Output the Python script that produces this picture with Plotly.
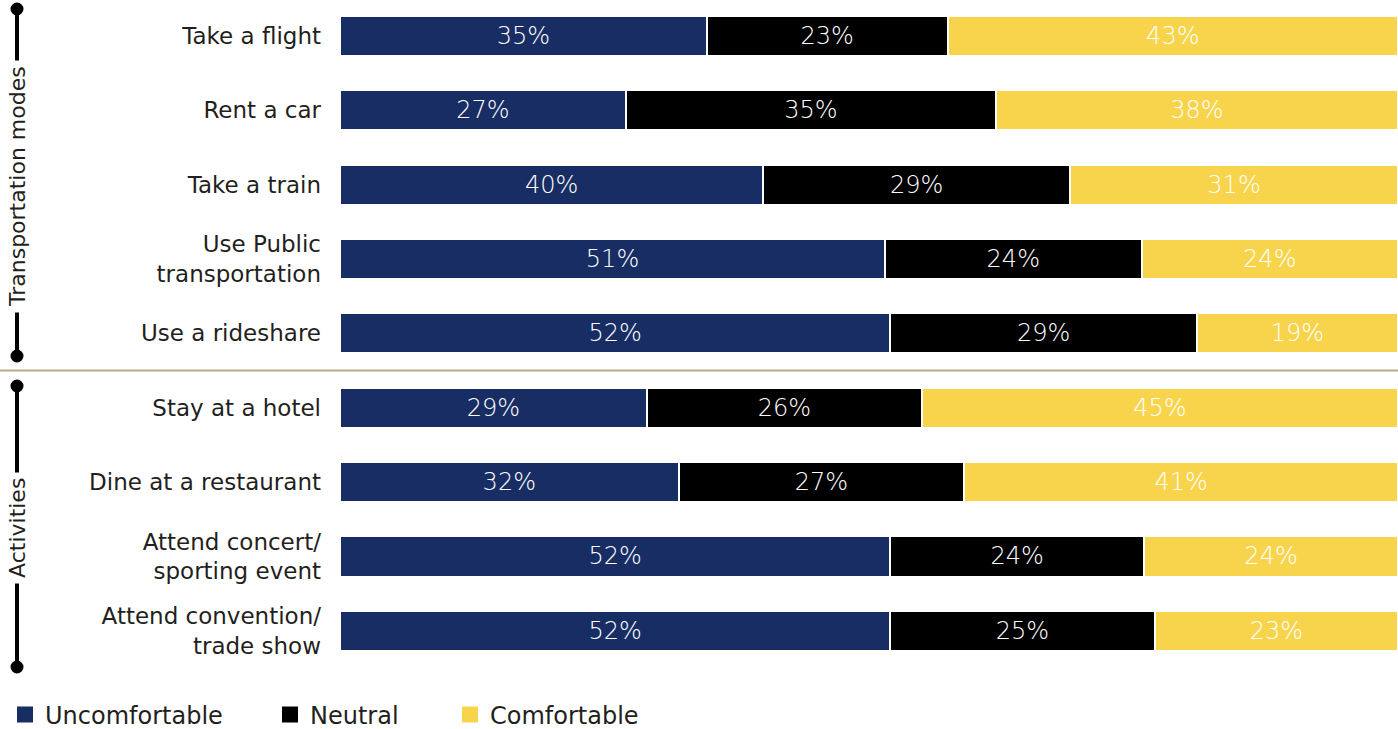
import plotly.graph_objects as go

categories = ["Take a flight", "Rent a car", "Take a train", "Use Public<br>transportation",
              "Use a rideshare", "Stay at a hotel", "Dine at a restaurant",
              "Attend concert/<br>sporting event", "Attend convention/<br>trade show"]
uncomfortable = [35, 27, 40, 51, 52, 29, 32, 52, 52]
neutral = [23, 35, 29, 24, 29, 26, 27, 24, 25]
comfortable = [43, 38, 31, 24, 19, 45, 41, 24, 23]
series_names = ["Uncomfortable", "Neutral", "Comfortable"]
colors = ["#172d63", "#000000", "#f7d44c"]
group_names = ["Transportation modes", "Activities"]

FONT = "DejaVu Sans"
TXT = "#231f20"
W, H = 1398, 729
ml, mt, mb = 340, 0, 61
pw, ph = W - ml, H - mt - mb

fig = go.Figure()
legend_ids = ["legend", "legend2", "legend3"]
for name, vals, col, lid in zip(series_names, [uncomfortable, neutral, comfortable], colors, legend_ids):
    fig.add_trace(go.Bar(
        y=categories, x=vals, name=name, orientation="h",
        marker=dict(color=col, line=dict(color="white", width=2)),
        text=vals, texttemplate="%{text}%", textposition="inside",
        insidetextanchor="middle", constraintext="none",
        textfont=dict(color="white", size=24, family=FONT, weight=300),
        hoverinfo="skip", showlegend=False,
    ))
    fig.add_trace(go.Scatter(
        x=[None], y=[None], mode="markers", name=name, legend=lid,
        marker=dict(symbol="square", size=24, color=col), showlegend=True, hoverinfo="skip",
    ))

xl = -(ml - 17) / pw
xs = -ml / pw


def py(px):
    return 1 - (px - mt) / ph


shapes = [
    dict(type="line", xref="paper", yref="y", x0=xs, x1=1, y0=4.5, y1=4.5,
         line=dict(color="#b8ad88", width=2)),
    dict(type="line", xref="paper", yref="paper", x0=xl, x1=xl, y0=py(9), y1=py(356),
         line=dict(color="black", width=4)),
    dict(type="line", xref="paper", yref="paper", x0=xl, x1=xl, y0=py(386), y1=py(667),
         line=dict(color="black", width=4)),
]
for ypx in [9, 356, 386, 667]:
    shapes.append(dict(type="circle", xref="paper", yref="paper", xsizemode="pixel", ysizemode="pixel",
                       xanchor=xl, yanchor=py(ypx), x0=-6.5, x1=6.5, y0=-6.5, y1=6.5,
                       fillcolor="black", line=dict(color="black", width=0)))

annotations = []
for gname, cy in zip(group_names, [187, 528]):
    annotations.append(dict(text=gname, xref="paper", yref="paper", x=xl, y=py(cy),
                            xanchor="center", yanchor="middle",
                            textangle=-90, showarrow=False, bgcolor="white", borderpad=5,
                            font=dict(size=22, family=FONT, color=TXT)))

leg_common = dict(orientation="h", xref="container", yref="container", y=1 - 715 / H,
                  xanchor="left", yanchor="middle", font=dict(size=24, family=FONT, color=TXT),
                  bgcolor="rgba(0,0,0,0)", itemwidth=30)

fig.update_layout(
    width=W, height=H, barmode="stack", barnorm="percent", bargap=0.46,
    margin=dict(l=ml, r=0, t=mt, b=mb),
    paper_bgcolor="white", plot_bgcolor="white",
    font=dict(family=FONT, size=23, color=TXT),
    xaxis=dict(visible=False, range=[0, 100], fixedrange=True),
    yaxis=dict(categoryorder="array", categoryarray=categories, range=[8.5, -0.484],
               showgrid=False, zeroline=False, showline=False, ticks="", fixedrange=True,
               ticklabelstandoff=18, tickfont=dict(size=23, family=FONT, color=TXT)),
    legend=dict(x=5 / W, **leg_common),
    legend2=dict(x=270 / W, **leg_common),
    legend3=dict(x=450 / W, **leg_common),
    shapes=shapes, annotations=annotations,
)
fig.write_html("out.html", config={"displayModeBar": False},
               post_script="document.body.style.margin='0';")
